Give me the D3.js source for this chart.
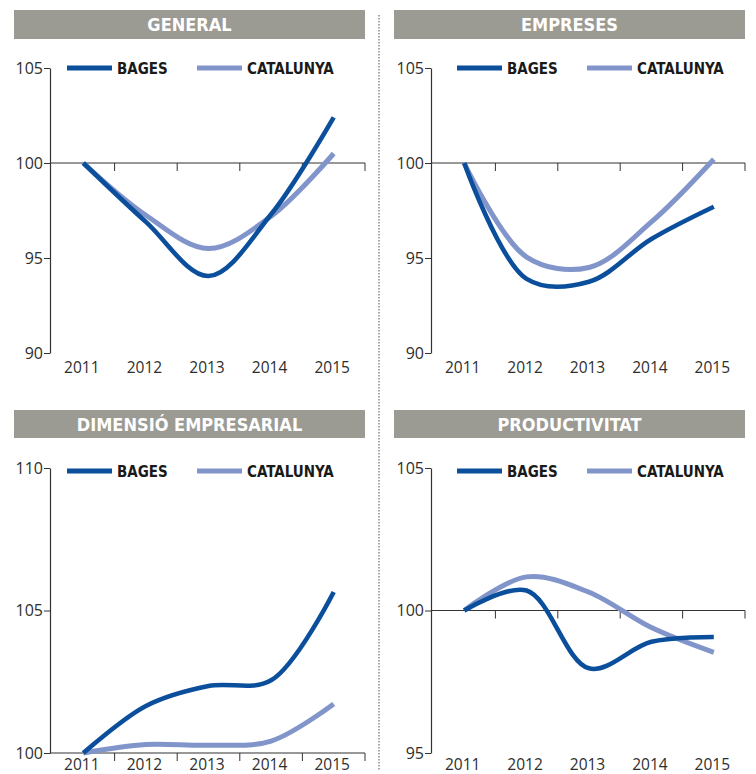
<!DOCTYPE html>
<html>
<head>
<meta charset="utf-8">
<script src="https://cdn.jsdelivr.net/npm/d3@7"></script>
<style>
  html, body { margin: 0; padding: 0; background: #ffffff; }
  svg { display: block; }
</style>
</head>
<body>
<svg id="chart" width="756" height="774"></svg>
<script>
// ---------- DATA ----------
const years = ["2011", "2012", "2013", "2014", "2015"];
const seriesNames = ["BAGES", "CATALUNYA"];
const panelTitles = ["GENERAL", "EMPRESES", "DIMENSIÓ EMPRESARIAL", "PRODUCTIVITAT"];

const generalBages = [100, 96.9, 94.05, 97.3, 102.4];
const generalCatalunya = [100, 97.25, 95.5, 97.2, 100.5];

const empresesBages = [100, 93.9, 93.75, 96.0, 97.7];
const empresesCatalunya = [100, 95.05, 94.5, 96.9, 100.2];

const dimensioBages = [100, 101.65, 102.35, 102.55, 105.65];
const dimensioCatalunya = [100, 100.3, 100.27, 100.42, 101.72];

const productivitatBages = [100, 100.7, 97.97, 98.9, 99.07];
const productivitatCatalunya = [100, 101.18, 100.64, 99.4, 98.53];

const yTicksGeneral = [90, 95, 100, 105];
const yTicksEmpreses = [90, 95, 100, 105];
const yTicksDimensio = [100, 105, 110];
const yTicksProductivitat = [95, 100, 105];

// ---------- STYLE / LAYOUT ----------
const colors = { BAGES: "#0b4f9c", CATALUNYA: "#8195cb" };
const widths = { BAGES: 4.6, CATALUNYA: 5 };
const barColor = "#9c9b93";
const axisColor = "#333333";
const textColor = "#2e2e2e";

const panels = [
  { title: panelTitles[0], bages: generalBages, cat: generalCatalunya, ticks: yTicksGeneral,
    domain: [90, 105], barX: 14, barY: 10, barW: 351, barH: 29,
    axisX: 50, xRange: [52, 365], yRange: [353, 68], legendX: 67, legendY: 68, labelY: 373 },
  { title: panelTitles[1], bages: empresesBages, cat: empresesCatalunya, ticks: yTicksEmpreses,
    domain: [90, 105], barX: 394, barY: 10, barW: 351, barH: 29,
    axisX: 431, xRange: [433, 745], yRange: [353, 68], legendX: 457, legendY: 68, labelY: 373 },
  { title: panelTitles[2], bages: dimensioBages, cat: dimensioCatalunya, ticks: yTicksDimensio,
    domain: [100, 110], barX: 14, barY: 410, barW: 351, barH: 28,
    axisX: 50, xRange: [52, 365], yRange: [753, 468], legendX: 67, legendY: 471, labelY: 770 },
  { title: panelTitles[3], bages: productivitatBages, cat: productivitatCatalunya, ticks: yTicksProductivitat,
    domain: [95, 105], barX: 394, barY: 410, barW: 351, barH: 28,
    axisX: 431, xRange: [433, 745], yRange: [753, 468], legendX: 457, legendY: 471, labelY: 770 }
];

const svg = d3.select("#chart");

// Divider (dotted)
svg.append("line")
  .attr("x1", 379).attr("x2", 379)
  .attr("y1", 15).attr("y2", 770)
  .attr("stroke", "#8a8a8a")
  .attr("stroke-width", 1.5)
  .attr("stroke-dasharray", "1.5,1.5");

panels.forEach(p => {
  const g = svg.append("g");

  // Title bar
  g.append("rect")
    .attr("x", p.barX).attr("y", p.barY)
    .attr("width", p.barW).attr("height", p.barH)
    .attr("fill", barColor);
  g.append("text")
    .attr("x", p.barX + p.barW / 2)
    .attr("y", p.barY + p.barH / 2 + 6.5)
    .attr("text-anchor", "middle")
    .attr("fill", "#ffffff")
    .style("font-family", "'DejaVu Sans Condensed', 'DejaVu Sans', sans-serif")
    .style("font-weight", "bold")
    .style("font-size", "18px")
    .text(p.title);

  // Scales
  const xBand = d3.scaleBand().domain(years).range(p.xRange).padding(0);
  const xPos = d => xBand(d) + xBand.bandwidth() / 2;
  const y = d3.scaleLinear().domain(p.domain).range(p.yRange);

  // Y axis
  const yAxis = d3.axisLeft(y)
    .tickValues(p.ticks)
    .tickSize(6)
    .tickSizeOuter(0)
    .tickPadding(1)
    .tickFormat(d3.format("d"));
  const yg = g.append("g")
    .attr("transform", `translate(${p.axisX},0)`)
    .call(yAxis);
  yg.select(".domain").attr("stroke", axisColor).attr("stroke-width", 1.2);
  yg.selectAll(".tick line").attr("stroke", axisColor).attr("stroke-width", 1);
  yg.selectAll(".tick text")
    .attr("fill", textColor)
    .style("font-family", "'Open Sans', sans-serif")
    .style("font-size", "16px");

  // X axis: line at value 100 with ticks at band boundaries
  const y100 = y(100);
  const xg = g.append("g");
  xg.append("line")
    .attr("x1", p.axisX).attr("x2", p.xRange[1])
    .attr("y1", y100).attr("y2", y100)
    .attr("stroke", axisColor).attr("stroke-width", 1.2);
  xg.selectAll("line.tk")
    .data(years)
    .join("line")
    .attr("class", "tk")
    .attr("x1", d => xBand(d) + xBand.bandwidth())
    .attr("x2", d => xBand(d) + xBand.bandwidth())
    .attr("y1", y100).attr("y2", y100 + 8)
    .attr("stroke", axisColor).attr("stroke-width", 1);

  // X labels
  g.selectAll("text.xl")
    .data(years)
    .join("text")
    .attr("class", "xl")
    .attr("x", d => xPos(d) - 1.5)
    .attr("y", p.labelY)
    .attr("text-anchor", "middle")
    .attr("fill", textColor)
    .style("font-family", "'Open Sans', sans-serif")
    .style("font-size", "15.5px")
    .text(d => d);

  // Lines
  const line = d3.line()
    .x((d, i) => xPos(years[i]))
    .y(d => y(d))
    .curve(d3.curveCatmullRom.alpha(0.5));

  const series = [
    { name: seriesNames[1], values: p.cat },
    { name: seriesNames[0], values: p.bages }
  ];
  g.selectAll("path.series")
    .data(series)
    .join("path")
    .attr("class", "series")
    .attr("d", d => line(d.values))
    .attr("fill", "none")
    .attr("stroke", d => colors[d.name])
    .attr("stroke-width", d => widths[d.name])
    .attr("stroke-linejoin", "round");

  // Legend
  const legendItems = [
    { name: seriesNames[0], lx: p.legendX, tx: p.legendX + 50 },
    { name: seriesNames[1], lx: p.legendX + 130, tx: p.legendX + 180 }
  ];
  const lg = g.append("g");
  lg.selectAll("line")
    .data(legendItems)
    .join("line")
    .attr("x1", d => d.lx).attr("x2", d => d.lx + 45)
    .attr("y1", p.legendY).attr("y2", p.legendY)
    .attr("stroke", d => colors[d.name])
    .attr("stroke-width", 5);
  lg.selectAll("text")
    .data(legendItems)
    .join("text")
    .attr("x", d => d.tx)
    .attr("y", p.legendY + 5.5)
    .attr("fill", "#1a1a1a")
    .style("font-family", "'DejaVu Sans Condensed', 'DejaVu Sans', sans-serif")
    .style("font-weight", "bold")
    .style("font-size", "15px")
    .text(d => d.name);
});
</script>
</body>
</html>
